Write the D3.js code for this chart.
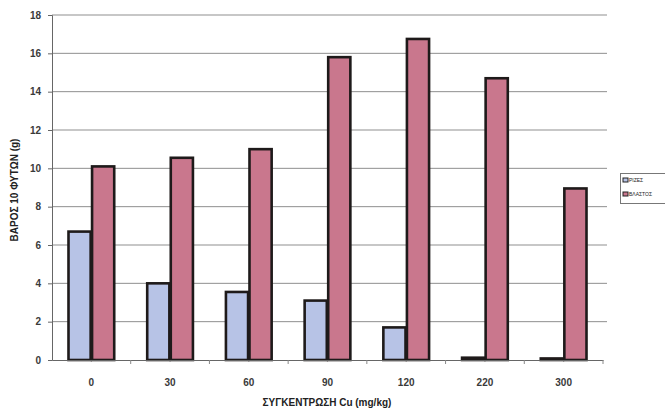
<!DOCTYPE html>
<html><head><meta charset="utf-8">
<script src="https://cdn.jsdelivr.net/npm/d3@7"></script>
<style>
html,body{margin:0;padding:0;background:#fff;}
svg{display:block;font-family:Arial,"Liberation Sans",sans-serif;}
</style></head>
<body><svg id="chart" width="665" height="411"></svg>
<script>
const categories = ["0","30","60","90","120","220","300"];
const seriesNames = ["ΡΙΖΕΣ","ΒΛΑΣΤΟΣ"];
const rootValues = [6.7, 4.0, 3.55, 3.1, 1.7, 0.12, 0.08];
const shootValues = [10.1, 10.55, 11.0, 15.8, 16.75, 14.7, 8.95];
const yTicks = [0,2,4,6,8,10,12,14,16,18];
const colors = ["#b7c3e6","#c9778d"];

const svg = d3.select("#chart");
const m = {left:52, right:603, top:15, bottom:360};
const x = d3.scaleBand().domain(categories).range([m.left, m.right]).paddingInner(0).paddingOuter(0);
const x1 = d3.scaleBand().domain([0,1]).range([0, x.bandwidth()]).paddingInner(0.06).paddingOuter(0.7);
const y = d3.scaleLinear().domain([0,18]).range([m.bottom, m.top]);

// gridlines
svg.append("g").selectAll("line").data(yTicks.filter(d=>d>0)).join("line")
  .attr("x1", m.left).attr("x2", 607)
  .attr("y1", d=>y(d)).attr("y2", d=>y(d))
  .attr("stroke", "#8f8f8f").attr("stroke-width", 1);

// y axis
const ya = svg.append("g").attr("transform", `translate(${m.left},0)`)
  .call(d3.axisLeft(y).tickValues(yTicks).tickSize(4).tickPadding(7));
ya.select(".domain").attr("stroke","#666");
ya.selectAll(".tick line").attr("stroke","#666");
ya.selectAll("text").attr("font-size", 10).attr("fill", "#3a3a3a").attr("font-weight","bold");

// bars
const data = categories.map((c,i)=>({c, v:[rootValues[i], shootValues[i]]}));
const g = svg.append("g");
g.selectAll("g").data(data).join("g")
  .attr("transform", d=>`translate(${x(d.c)},0)`)
  .selectAll("rect").data(d=>d.v.map((v,k)=>({v,k}))).join("rect")
  .attr("x", d=>x1(d.k)).attr("width", x1.bandwidth())
  .attr("y", d=>y(d.v)).attr("height", d=>Math.max(0, m.bottom - y(d.v)))
  .attr("fill", d=>colors[d.k])
  .attr("stroke", "#1e1a1a").attr("stroke-width", 2.6);

// x axis
const xa = svg.append("g").attr("transform", `translate(0,${m.bottom})`)
  .call(d3.axisBottom(x).tickSize(0).tickPadding(19));
xa.select(".domain").attr("stroke","#666");
xa.selectAll("text").attr("font-size", 10).attr("fill", "#3a3a3a").attr("font-weight","bold");
// ticks between categories
svg.append("g").selectAll("line").data(categories.slice(1).concat(["__end"])).join("line")
  .attr("x1", (d,i)=> i < categories.length-1 ? x(d) : m.right)
  .attr("x2", (d,i)=> i < categories.length-1 ? x(d) : m.right)
  .attr("y1", m.bottom).attr("y2", m.bottom+4)
  .attr("stroke","#888");

// axis titles
svg.append("text").attr("x", 327).attr("y", 406).attr("text-anchor","middle")
  .attr("font-size", 10).attr("font-weight","bold").attr("fill","#222")
  .text("ΣΥΓΚΕΝΤΡΩΣΗ Cu (mg/kg)");
svg.append("text").attr("transform","translate(18,190) rotate(-90)").attr("text-anchor","middle")
  .attr("font-size", 10).attr("font-weight","bold").attr("fill","#222")
  .text("ΒΑΡΟΣ 10 ΦΥΤΩΝ (g)");

// legend
const lg = svg.append("g");
lg.append("rect").attr("x", 620.5).attr("y", 173.5).attr("width", 50).attr("height", 30)
  .attr("fill","#fff").attr("stroke","#777").attr("stroke-width",1);
seriesNames.forEach((n,i)=>{
  lg.append("rect").attr("x", 623).attr("y", 178 + i*14).attr("width", 5).attr("height", 4)
    .attr("fill", colors[i]).attr("stroke","#222").attr("stroke-width",1);
  lg.append("text").attr("x", 629).attr("y", 182 + i*14).attr("font-size", 5)
    .attr("fill","#222").text(n);
});
</script></body></html>
